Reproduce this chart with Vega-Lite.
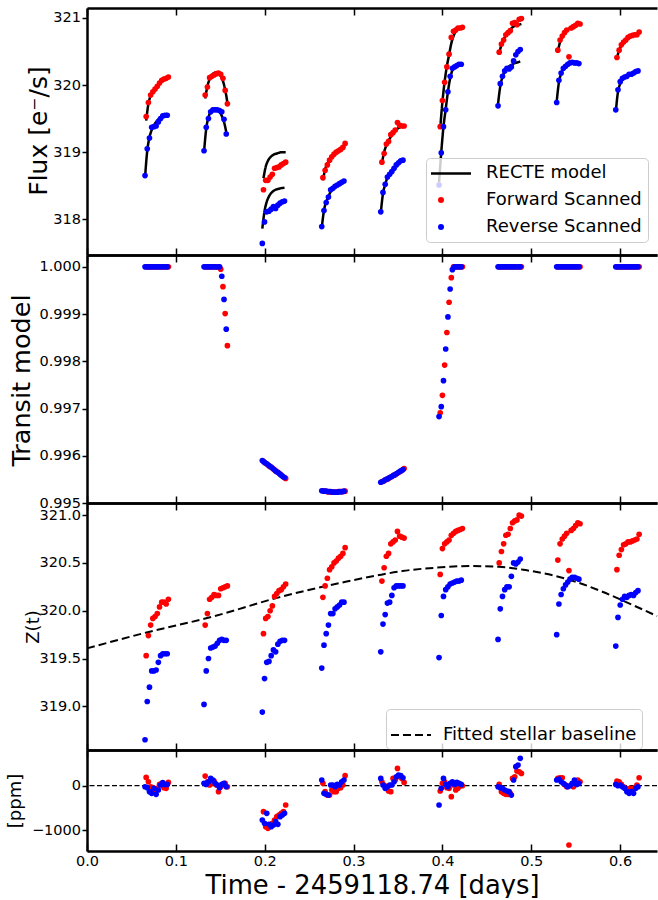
{
"$schema":"https://vega.github.io/schema/vega-lite/v6.json",
"background":"white",
"padding":{"left":6,"top":7,"right":0,"bottom":0},
"config":{"font":"DejaVu Sans","view":{"stroke":null},
"axis":{"grid":false,"domainColor":"black","domainWidth":2.5,"tickColor":"black","tickWidth":1.5,"labelColor":"black","labelFontSize":14.5,"labelFont":"DejaVu Sans","titleFont":"DejaVu Sans","titleColor":"black","titleFontWeight":"normal"},
"legend":{"labelFont":"DejaVu Sans"}},
"data":{"values":[
{"o":1,"d":"F","t":0.0666,"f":319.53,"m":319.47,"tr":1,"z":319.53,"r":188},
{"o":1,"d":"F","t":0.0691,"f":319.74,"m":319.72,"tr":1,"z":319.74,"r":90},
{"o":1,"d":"F","t":0.0716,"f":319.85,"m":319.84,"tr":1,"z":319.85,"r":-23},
{"o":1,"d":"F","t":0.0741,"f":319.90,"m":319.91,"tr":1,"z":319.92,"r":-45},
{"o":1,"d":"F","t":0.0766,"f":319.94,"m":319.95,"tr":1,"z":319.94,"r":-98},
{"o":1,"d":"F","t":0.0791,"f":319.98,"m":319.99,"tr":1,"z":319.97,"r":-60},
{"o":1,"d":"F","t":0.0816,"f":320.03,"m":320.02,"tr":1,"z":320.04,"r":30},
{"o":1,"d":"F","t":0.0841,"f":320.07,"m":320.05,"tr":1,"z":320.09,"r":53},
{"o":1,"d":"F","t":0.0866,"f":320.09,"m":320.07,"tr":1,"z":320.09,"r":-45},
{"o":1,"d":"F","t":0.0891,"f":320.10,"m":320.09,"tr":1,"z":320.07,"r":-60},
{"o":1,"d":"F","t":0.0916,"f":320.12,"m":320.11,"tr":1,"z":320.12,"r":75},
{"o":1,"d":"R","t":0.0653,"f":318.65,"m":318.62,"tr":1,"z":318.65,"r":-23},
{"o":1,"d":"R","t":0.0678,"f":319.05,"m":319.02,"tr":1,"z":319.05,"r":-45},
{"o":1,"d":"R","t":0.0703,"f":319.21,"m":319.22,"tr":1,"z":319.20,"r":-135},
{"o":1,"d":"R","t":0.0728,"f":319.37,"m":319.33,"tr":1,"z":319.37,"r":-173},
{"o":1,"d":"R","t":0.0753,"f":319.38,"m":319.40,"tr":1,"z":319.37,"r":-60},
{"o":1,"d":"R","t":0.0778,"f":319.39,"m":319.45,"tr":1,"z":319.38,"r":-195},
{"o":1,"d":"R","t":0.0803,"f":319.45,"m":319.49,"tr":1,"z":319.46,"r":-98},
{"o":1,"d":"R","t":0.0828,"f":319.50,"m":319.52,"tr":1,"z":319.53,"r":15},
{"o":1,"d":"R","t":0.0853,"f":319.54,"m":319.54,"tr":1,"z":319.55,"r":68},
{"o":1,"d":"R","t":0.0878,"f":319.55,"m":319.56,"tr":1,"z":319.55,"r":30},
{"o":1,"d":"R","t":0.0903,"f":319.55,"m":319.57,"tr":1,"z":319.55,"r":30},
{"o":2,"d":"F","t":0.1330,"f":319.85,"m":319.80,"tr":1,"z":319.85,"r":218},
{"o":2,"d":"F","t":0.1355,"f":319.97,"m":319.98,"tr":1,"z":319.97,"r":90},
{"o":2,"d":"F","t":0.1380,"f":320.11,"m":320.09,"tr":1,"z":320.12,"r":15},
{"o":2,"d":"F","t":0.1405,"f":320.13,"m":320.15,"tr":1,"z":320.14,"r":53},
{"o":2,"d":"F","t":0.1430,"f":320.15,"m":320.18,"tr":1,"z":320.17,"r":105},
{"o":2,"d":"F","t":0.1455,"f":320.17,"m":320.19,"tr":1,"z":320.16,"r":15},
{"o":2,"d":"F","t":0.1480,"f":320.18,"m":320.18,"tr":1,"z":320.16,"r":-135},
{"o":2,"d":"F","t":0.1505,"f":320.16,"m":320.14,"tr":0.99995,"z":320.23,"r":-23},
{"o":2,"d":"F","t":0.1530,"f":320.10,"m":320.06,"tr":0.99958,"z":320.24,"r":30},
{"o":2,"d":"F","t":0.1555,"f":319.92,"m":319.93,"tr":0.99901,"z":320.25,"r":53},
{"o":2,"d":"F","t":0.1580,"f":319.72,"m":319.74,"tr":0.99833,"z":320.26,"r":-23},
{"o":2,"d":"R","t":0.1317,"f":319.02,"m":319.00,"tr":1,"z":319.02,"r":53},
{"o":2,"d":"R","t":0.1342,"f":319.37,"m":319.35,"tr":1,"z":319.37,"r":30},
{"o":2,"d":"R","t":0.1367,"f":319.50,"m":319.52,"tr":1,"z":319.50,"r":90},
{"o":2,"d":"R","t":0.1392,"f":319.60,"m":319.60,"tr":1,"z":319.61,"r":165},
{"o":2,"d":"R","t":0.1417,"f":319.63,"m":319.64,"tr":1,"z":319.62,"r":128},
{"o":2,"d":"R","t":0.1442,"f":319.63,"m":319.65,"tr":1,"z":319.63,"r":53},
{"o":2,"d":"R","t":0.1467,"f":319.63,"m":319.64,"tr":1,"z":319.66,"r":15},
{"o":2,"d":"R","t":0.1492,"f":319.62,"m":319.60,"tr":1,"z":319.69,"r":-45},
{"o":2,"d":"R","t":0.1517,"f":319.60,"m":319.54,"tr":0.9998,"z":319.70,"r":30},
{"o":2,"d":"R","t":0.1542,"f":319.49,"m":319.45,"tr":0.99931,"z":319.69,"r":53},
{"o":2,"d":"R","t":0.1567,"f":319.27,"m":319.30,"tr":0.99868,"z":319.69,"r":-23},
{"o":3,"d":"F","t":0.1986,"f":318.44,"m":318.61,"tr":0.99588,"z":319.76,"r":-586},
{"o":3,"d":"F","t":0.2011,"f":318.58,"m":318.78,"tr":0.99584,"z":319.92,"r":-925},
{"o":3,"d":"F","t":0.2036,"f":318.58,"m":318.87,"tr":0.99581,"z":319.94,"r":-962},
{"o":3,"d":"F","t":0.2061,"f":318.63,"m":318.92,"tr":0.99577,"z":320.00,"r":-887},
{"o":3,"d":"F","t":0.2086,"f":318.67,"m":318.95,"tr":0.99574,"z":320.05,"r":-850},
{"o":3,"d":"F","t":0.2111,"f":318.76,"m":318.97,"tr":0.99570,"z":320.15,"r":-774},
{"o":3,"d":"F","t":0.2136,"f":318.77,"m":318.98,"tr":0.99566,"z":320.18,"r":-699},
{"o":3,"d":"F","t":0.2161,"f":318.78,"m":318.99,"tr":0.99563,"z":320.21,"r":-662},
{"o":3,"d":"F","t":0.2186,"f":318.81,"m":319.00,"tr":0.99559,"z":320.22,"r":-624},
{"o":3,"d":"F","t":0.2211,"f":318.83,"m":319.00,"tr":0.99555,"z":320.25,"r":-586},
{"o":3,"d":"F","t":0.2236,"f":318.85,"m":319.00,"tr":0.99552,"z":320.28,"r":-436},
{"o":3,"d":"R","t":0.1973,"f":317.64,"m":317.86,"tr":0.99590,"z":318.94,"r":-774},
{"o":3,"d":"R","t":0.1998,"f":317.96,"m":318.12,"tr":0.99586,"z":319.29,"r":-850},
{"o":3,"d":"R","t":0.2023,"f":318.11,"m":318.26,"tr":0.99583,"z":319.46,"r":-624},
{"o":3,"d":"R","t":0.2048,"f":318.12,"m":318.34,"tr":0.99579,"z":319.47,"r":-872},
{"o":3,"d":"R","t":0.2073,"f":318.15,"m":318.39,"tr":0.99576,"z":319.53,"r":-925},
{"o":3,"d":"R","t":0.2098,"f":318.19,"m":318.42,"tr":0.99572,"z":319.59,"r":-887},
{"o":3,"d":"R","t":0.2123,"f":318.16,"m":318.44,"tr":0.99568,"z":319.57,"r":-812},
{"o":3,"d":"R","t":0.2148,"f":318.21,"m":318.45,"tr":0.99565,"z":319.65,"r":-872},
{"o":3,"d":"R","t":0.2173,"f":318.24,"m":318.46,"tr":0.99561,"z":319.68,"r":-699},
{"o":3,"d":"R","t":0.2198,"f":318.26,"m":318.465,"tr":0.99557,"z":319.69,"r":-662},
{"o":3,"d":"R","t":0.2223,"f":318.27,"m":318.47,"tr":0.99554,"z":319.69,"r":-624},
{"o":4,"d":"F","t":0.2655,"f":318.62,"m":318.58,"tr":0.99526,"z":320.14,"r":53},
{"o":4,"d":"F","t":0.2680,"f":318.73,"m":318.74,"tr":0.99525,"z":320.26,"r":-135},
{"o":4,"d":"F","t":0.2705,"f":318.81,"m":318.83,"tr":0.99524,"z":320.34,"r":-211},
{"o":4,"d":"F","t":0.2730,"f":318.88,"m":318.89,"tr":0.99524,"z":320.43,"r":-211},
{"o":4,"d":"F","t":0.2755,"f":318.93,"m":318.94,"tr":0.99523,"z":320.46,"r":-98},
{"o":4,"d":"F","t":0.2780,"f":318.97,"m":318.97,"tr":0.99523,"z":320.50,"r":-135},
{"o":4,"d":"F","t":0.2805,"f":319.00,"m":319.00,"tr":0.99523,"z":320.52,"r":-135},
{"o":4,"d":"F","t":0.2830,"f":319.02,"m":319.03,"tr":0.99524,"z":320.55,"r":-60},
{"o":4,"d":"F","t":0.2855,"f":319.04,"m":319.05,"tr":0.99524,"z":320.57,"r":-45},
{"o":4,"d":"F","t":0.2880,"f":319.07,"m":319.07,"tr":0.99524,"z":320.60,"r":15},
{"o":4,"d":"F","t":0.2905,"f":319.13,"m":319.09,"tr":0.99525,"z":320.66,"r":226},
{"o":4,"d":"R","t":0.2642,"f":317.89,"m":317.87,"tr":0.99526,"z":319.40,"r":128},
{"o":4,"d":"R","t":0.2667,"f":318.13,"m":318.13,"tr":0.99525,"z":319.64,"r":-173},
{"o":4,"d":"R","t":0.2692,"f":318.25,"m":318.26,"tr":0.99525,"z":319.76,"r":-195},
{"o":4,"d":"R","t":0.2717,"f":318.33,"m":318.34,"tr":0.99524,"z":319.85,"r":-211},
{"o":4,"d":"R","t":0.2742,"f":318.44,"m":318.41,"tr":0.99524,"z":319.97,"r":15},
{"o":4,"d":"R","t":0.2767,"f":318.46,"m":318.45,"tr":0.99523,"z":319.97,"r":15},
{"o":4,"d":"R","t":0.2792,"f":318.49,"m":318.48,"tr":0.99523,"z":320.02,"r":-23},
{"o":4,"d":"R","t":0.2817,"f":318.51,"m":318.51,"tr":0.99523,"z":320.04,"r":30},
{"o":4,"d":"R","t":0.2842,"f":318.53,"m":318.53,"tr":0.99524,"z":320.06,"r":15},
{"o":4,"d":"R","t":0.2867,"f":318.55,"m":318.55,"tr":0.99524,"z":320.09,"r":90},
{"o":4,"d":"R","t":0.2892,"f":318.57,"m":318.57,"tr":0.99525,"z":320.09,"r":128},
{"o":5,"d":"F","t":0.3319,"f":318.85,"m":318.83,"tr":0.99545,"z":320.31,"r":90},
{"o":5,"d":"F","t":0.3344,"f":318.98,"m":319.00,"tr":0.99547,"z":320.45,"r":15},
{"o":5,"d":"F","t":0.3369,"f":319.12,"m":319.10,"tr":0.99550,"z":320.57,"r":-23},
{"o":5,"d":"F","t":0.3394,"f":319.16,"m":319.17,"tr":0.99552,"z":320.60,"r":-120},
{"o":5,"d":"F","t":0.3419,"f":319.26,"m":319.23,"tr":0.99555,"z":320.70,"r":-135},
{"o":5,"d":"F","t":0.3444,"f":319.29,"m":319.28,"tr":0.99558,"z":320.72,"r":165},
{"o":5,"d":"F","t":0.3469,"f":319.33,"m":319.32,"tr":0.99560,"z":320.74,"r":128},
{"o":5,"d":"F","t":0.3494,"f":319.44,"m":319.35,"tr":0.99563,"z":320.83,"r":391},
{"o":5,"d":"F","t":0.3519,"f":319.40,"m":319.37,"tr":0.99566,"z":320.78,"r":203},
{"o":5,"d":"F","t":0.3544,"f":319.39,"m":319.39,"tr":0.99569,"z":320.77,"r":165},
{"o":5,"d":"F","t":0.3569,"f":319.39,"m":319.40,"tr":0.99573,"z":320.76,"r":75},
{"o":5,"d":"R","t":0.3306,"f":318.11,"m":318.09,"tr":0.99544,"z":319.57,"r":165},
{"o":5,"d":"R","t":0.3331,"f":318.40,"m":318.38,"tr":0.99546,"z":319.86,"r":15},
{"o":5,"d":"R","t":0.3356,"f":318.52,"m":318.52,"tr":0.99549,"z":319.96,"r":-60},
{"o":5,"d":"R","t":0.3381,"f":318.63,"m":318.62,"tr":0.99551,"z":320.08,"r":-23},
{"o":5,"d":"R","t":0.3406,"f":318.67,"m":318.68,"tr":0.99554,"z":320.09,"r":15},
{"o":5,"d":"R","t":0.3431,"f":318.71,"m":318.73,"tr":0.99556,"z":320.16,"r":15},
{"o":5,"d":"R","t":0.3456,"f":318.76,"m":318.77,"tr":0.99559,"z":320.24,"r":90},
{"o":5,"d":"R","t":0.3481,"f":318.81,"m":318.81,"tr":0.99562,"z":320.26,"r":203},
{"o":5,"d":"R","t":0.3506,"f":318.84,"m":318.84,"tr":0.99565,"z":320.26,"r":241},
{"o":5,"d":"R","t":0.3531,"f":318.87,"m":318.86,"tr":0.99568,"z":320.26,"r":226},
{"o":5,"d":"R","t":0.3556,"f":318.88,"m":318.88,"tr":0.99571,"z":320.26,"r":180},
{"o":6,"d":"F","t":0.3975,"f":319.38,"m":319.35,"tr":0.99691,"z":320.38,"r":-120},
{"o":6,"d":"F","t":0.4000,"f":319.77,"m":319.75,"tr":0.99728,"z":320.65,"r":53},
{"o":6,"d":"F","t":0.4025,"f":320.04,"m":320.05,"tr":0.99792,"z":320.70,"r":90},
{"o":6,"d":"F","t":0.4050,"f":320.27,"m":320.28,"tr":0.99861,"z":320.72,"r":-45},
{"o":6,"d":"F","t":0.4075,"f":320.46,"m":320.45,"tr":0.99925,"z":320.74,"r":-60},
{"o":6,"d":"F","t":0.4100,"f":320.71,"m":320.62,"tr":0.99977,"z":320.79,"r":-248},
{"o":6,"d":"F","t":0.4125,"f":320.80,"m":320.73,"tr":1,"z":320.81,"r":15},
{"o":6,"d":"F","t":0.4150,"f":320.82,"m":320.80,"tr":1,"z":320.83,"r":-98},
{"o":6,"d":"F","t":0.4175,"f":320.85,"m":320.84,"tr":1,"z":320.84,"r":-60},
{"o":6,"d":"F","t":0.4200,"f":320.85,"m":320.86,"tr":1,"z":320.85,"r":0},
{"o":6,"d":"F","t":0.4225,"f":320.86,"m":320.87,"tr":1,"z":320.86,"r":0},
{"o":6,"d":"R","t":0.3962,"f":318.51,"m":318.55,"tr":0.99683,"z":319.51,"r":-436},
{"o":6,"d":"R","t":0.3987,"f":318.99,"m":319.00,"tr":0.99704,"z":319.95,"r":-60},
{"o":6,"d":"R","t":0.4012,"f":319.38,"m":319.38,"tr":0.99759,"z":320.15,"r":165},
{"o":6,"d":"R","t":0.4037,"f":319.63,"m":319.64,"tr":0.99826,"z":320.22,"r":30},
{"o":6,"d":"R","t":0.4062,"f":319.90,"m":319.90,"tr":0.99894,"z":320.25,"r":-23},
{"o":6,"d":"R","t":0.4087,"f":320.13,"m":320.10,"tr":0.99953,"z":320.28,"r":53},
{"o":6,"d":"R","t":0.4112,"f":320.25,"m":320.22,"tr":0.99994,"z":320.29,"r":90},
{"o":6,"d":"R","t":0.4137,"f":320.27,"m":320.27,"tr":1,"z":320.30,"r":30},
{"o":6,"d":"R","t":0.4162,"f":320.29,"m":320.30,"tr":1,"z":320.31,"r":75},
{"o":6,"d":"R","t":0.4187,"f":320.31,"m":320.31,"tr":1,"z":320.31,"r":53},
{"o":6,"d":"R","t":0.4212,"f":320.31,"m":320.32,"tr":1,"z":320.32,"r":30},
{"o":7,"d":"F","t":0.4639,"f":320.49,"m":320.47,"tr":1,"z":320.50,"r":30},
{"o":7,"d":"F","t":0.4664,"f":320.61,"m":320.60,"tr":1,"z":320.62,"r":-135},
{"o":7,"d":"F","t":0.4689,"f":320.67,"m":320.68,"tr":1,"z":320.70,"r":-173},
{"o":7,"d":"F","t":0.4714,"f":320.75,"m":320.74,"tr":1,"z":320.79,"r":-195},
{"o":7,"d":"F","t":0.4739,"f":320.78,"m":320.79,"tr":1,"z":320.80,"r":-195},
{"o":7,"d":"F","t":0.4764,"f":320.81,"m":320.83,"tr":1,"z":320.86,"r":-173},
{"o":7,"d":"F","t":0.4789,"f":320.92,"m":320.86,"tr":1,"z":320.92,"r":165},
{"o":7,"d":"F","t":0.4814,"f":320.93,"m":320.88,"tr":1,"z":320.94,"r":203},
{"o":7,"d":"F","t":0.4839,"f":320.90,"m":320.89,"tr":1,"z":320.95,"r":331},
{"o":7,"d":"F","t":0.4864,"f":320.98,"m":320.90,"tr":1,"z":321.00,"r":316},
{"o":7,"d":"F","t":0.4889,"f":320.99,"m":320.91,"tr":1,"z":320.99,"r":278},
{"o":7,"d":"R","t":0.4626,"f":319.69,"m":319.72,"tr":1,"z":319.70,"r":-23},
{"o":7,"d":"R","t":0.4651,"f":320.02,"m":319.98,"tr":1,"z":320.02,"r":-45},
{"o":7,"d":"R","t":0.4676,"f":320.13,"m":320.12,"tr":1,"z":320.15,"r":-60},
{"o":7,"d":"R","t":0.4701,"f":320.21,"m":320.20,"tr":1,"z":320.22,"r":-98},
{"o":7,"d":"R","t":0.4726,"f":320.25,"m":320.25,"tr":1,"z":320.25,"r":-120},
{"o":7,"d":"R","t":0.4751,"f":320.24,"m":320.28,"tr":1,"z":320.25,"r":-135},
{"o":7,"d":"R","t":0.4776,"f":320.27,"m":320.30,"tr":1,"z":320.36,"r":-211},
{"o":7,"d":"R","t":0.4801,"f":320.36,"m":320.32,"tr":1,"z":320.50,"r":128},
{"o":7,"d":"R","t":0.4826,"f":320.45,"m":320.33,"tr":1,"z":320.49,"r":429},
{"o":7,"d":"R","t":0.4851,"f":320.50,"m":320.34,"tr":1,"z":320.51,"r":466},
{"o":7,"d":"R","t":0.4876,"f":320.53,"m":320.35,"tr":1,"z":320.54,"r":617},
{"o":8,"d":"F","t":0.5299,"f":320.52,"m":320.50,"tr":1,"z":320.53,"r":165},
{"o":8,"d":"F","t":0.5324,"f":320.67,"m":320.64,"tr":1,"z":320.70,"r":180},
{"o":8,"d":"F","t":0.5349,"f":320.73,"m":320.72,"tr":1,"z":320.75,"r":180},
{"o":8,"d":"F","t":0.5374,"f":320.78,"m":320.78,"tr":1,"z":320.78,"r":30},
{"o":8,"d":"F","t":0.5399,"f":320.82,"m":320.82,"tr":1,"z":320.81,"r":-23},
{"o":8,"d":"F","t":0.5424,"f":320.42,"m":320.84,"tr":1,"z":320.42,"r":-1338},
{"o":8,"d":"F","t":0.5449,"f":320.85,"m":320.86,"tr":1,"z":320.84,"r":15},
{"o":8,"d":"F","t":0.5474,"f":320.87,"m":320.88,"tr":1,"z":320.86,"r":-23},
{"o":8,"d":"F","t":0.5499,"f":320.89,"m":320.89,"tr":1,"z":320.89,"r":30},
{"o":8,"d":"F","t":0.5524,"f":320.92,"m":320.90,"tr":1,"z":320.92,"r":128},
{"o":8,"d":"F","t":0.5549,"f":320.91,"m":320.90,"tr":1,"z":320.91,"r":90},
{"o":8,"d":"R","t":0.5286,"f":319.74,"m":319.75,"tr":1,"z":319.75,"r":128},
{"o":8,"d":"R","t":0.5311,"f":320.07,"m":320.04,"tr":1,"z":320.07,"r":150},
{"o":8,"d":"R","t":0.5336,"f":320.18,"m":320.17,"tr":1,"z":320.17,"r":90},
{"o":8,"d":"R","t":0.5361,"f":320.25,"m":320.24,"tr":1,"z":320.23,"r":53},
{"o":8,"d":"R","t":0.5386,"f":320.28,"m":320.28,"tr":1,"z":320.27,"r":15},
{"o":8,"d":"R","t":0.5411,"f":320.31,"m":320.31,"tr":1,"z":320.30,"r":-23},
{"o":8,"d":"R","t":0.5436,"f":320.33,"m":320.32,"tr":1,"z":320.33,"r":0},
{"o":8,"d":"R","t":0.5461,"f":320.34,"m":320.33,"tr":1,"z":320.35,"r":53},
{"o":8,"d":"R","t":0.5486,"f":320.33,"m":320.34,"tr":1,"z":320.35,"r":128},
{"o":8,"d":"R","t":0.5511,"f":320.33,"m":320.34,"tr":1,"z":320.34,"r":30},
{"o":8,"d":"R","t":0.5536,"f":320.32,"m":320.34,"tr":1,"z":320.33,"r":53},
{"o":9,"d":"F","t":0.5964,"f":320.41,"m":320.40,"tr":1,"z":320.43,"r":105},
{"o":9,"d":"F","t":0.5989,"f":320.52,"m":320.52,"tr":1,"z":320.58,"r":90},
{"o":9,"d":"F","t":0.6014,"f":320.60,"m":320.59,"tr":1,"z":320.64,"r":30},
{"o":9,"d":"F","t":0.6039,"f":320.64,"m":320.64,"tr":1,"z":320.69,"r":-23},
{"o":9,"d":"F","t":0.6064,"f":320.67,"m":320.67,"tr":1,"z":320.70,"r":-60},
{"o":9,"d":"F","t":0.6089,"f":320.71,"m":320.70,"tr":1,"z":320.72,"r":-75},
{"o":9,"d":"F","t":0.6114,"f":320.73,"m":320.72,"tr":1,"z":320.72,"r":-60},
{"o":9,"d":"F","t":0.6139,"f":320.74,"m":320.74,"tr":1,"z":320.73,"r":-98},
{"o":9,"d":"F","t":0.6164,"f":320.75,"m":320.75,"tr":1,"z":320.74,"r":-45},
{"o":9,"d":"F","t":0.6189,"f":320.75,"m":320.76,"tr":1,"z":320.75,"r":15},
{"o":9,"d":"F","t":0.6214,"f":320.79,"m":320.77,"tr":1,"z":320.80,"r":180},
{"o":9,"d":"R","t":0.5951,"f":319.63,"m":319.60,"tr":1,"z":319.63,"r":30},
{"o":9,"d":"R","t":0.5976,"f":319.93,"m":319.90,"tr":1,"z":319.93,"r":0},
{"o":9,"d":"R","t":0.6001,"f":320.05,"m":320.02,"tr":1,"z":320.06,"r":15},
{"o":9,"d":"R","t":0.6026,"f":320.10,"m":320.08,"tr":1,"z":320.12,"r":-23},
{"o":9,"d":"R","t":0.6051,"f":320.12,"m":320.12,"tr":1,"z":320.15,"r":-60},
{"o":9,"d":"R","t":0.6076,"f":320.13,"m":320.14,"tr":1,"z":320.14,"r":-135},
{"o":9,"d":"R","t":0.6101,"f":320.16,"m":320.16,"tr":1,"z":320.16,"r":-173},
{"o":9,"d":"R","t":0.6126,"f":320.16,"m":320.17,"tr":1,"z":320.17,"r":-135},
{"o":9,"d":"R","t":0.6151,"f":320.18,"m":320.18,"tr":1,"z":320.16,"r":-173},
{"o":9,"d":"R","t":0.6176,"f":320.20,"m":320.19,"tr":1,"z":320.19,"r":-60},
{"o":9,"d":"R","t":0.6201,"f":320.21,"m":320.20,"tr":1,"z":320.21,"r":-23}
]},
"spacing":0,
"bounds":"flush",
"resolve":{"scale":{"color":"independent","shape":"independent","strokeDash":"independent"},"legend":{"color":"independent","shape":"independent","strokeDash":"independent"}},
"vconcat":[
{"width":570,"height":247,
"layer":[
{"mark":{"type":"line","color":"black","strokeWidth":2.5,"interpolate":"monotone"},
"encoding":{
"x":{"field":"t","type":"quantitative","scale":{"domain":[0,0.6415],"nice":false,"zero":false},"axis":{"orient":"bottom","values":[0,0.1,0.2,0.3,0.4,0.5,0.6],"labels":false,"title":null,"tickSize":-7}},
"y":{"field":"m","type":"quantitative","scale":{"domain":[317.467,321.148],"nice":false,"zero":false},"axis":{"values":[318,319,320,321],"format":"d","tickSize":5,"labelPadding":1.5,"title":"Flux [e⁻/s]","titleFontSize":25,"titleAngle":-90,"titleX":-41,"titleY":122.5,"titleBaseline":"alphabetic","titleAlign":"center"}},
"detail":[{"field":"o","type":"nominal"},{"field":"d","type":"nominal"}],
"strokeDash":{"datum":"RECTE model","type":"nominal","scale":{"domain":["RECTE model"],"range":[[1,0]]},
"legend":{"orient":"none","legendX":344,"legendY":144,"title":null,"labelExpr":"''","labelFontSize":18,"padding":0,"symbolStrokeColor":"black","symbolStrokeWidth":2.5,"zindex":3,
"encode":{"symbols":{"update":{"size":{"value":1600},"x":{"value":20}}}}}}}},
{"mark":{"type":"point","filled":true,"size":32,"opacity":1},
"encoding":{
"x":{"field":"t","type":"quantitative","scale":{"domain":[0,0.6415],"nice":false,"zero":false},"axis":{"orient":"top","values":[0,0.1,0.2,0.3,0.4,0.5,0.6],"labels":false,"title":null,"tickSize":-7}},
"y":{"field":"f","type":"quantitative","scale":{"domain":[317.467,321.148],"nice":false,"zero":false},"axis":{"values":[318,319,320,321],"format":"d","tickSize":5,"labelPadding":1.5,"title":"Flux [e⁻/s]","titleFontSize":25,"titleAngle":-90,"titleX":-41,"titleY":122.5,"titleBaseline":"alphabetic","titleAlign":"center"}},
"color":{"field":"d","type":"nominal","scale":{"domain":["M","F","R"],"range":["black","#ff0000","#0000ff"]},
"legend":{"orient":"none","legendX":339,"legendY":150,"title":null,"labelExpr":"datum.label == 'M' ? 'RECTE model' : datum.label == 'F' ? 'Forward Scanned' : 'Reverse Scanned'","labelFontSize":18,"labelColor":"black","labelLimit":300,"symbolSize":36,"labelOffset":36,"rowPadding":9,"padding":6,"strokeColor":"#cccccc","cornerRadius":4,"fillColor":"rgba(255,255,255,0.8)","zindex":1}},
"shape":{"field":"d","type":"nominal","scale":{"domain":["M","F","R"],"range":["stroke","circle","circle"]},
"legend":{"orient":"none","legendX":339,"legendY":150,"title":null,"labelExpr":"datum.label == 'M' ? 'RECTE model' : datum.label == 'F' ? 'Forward Scanned' : 'Reverse Scanned'","labelFontSize":18,"labelColor":"black","labelLimit":300,"symbolSize":36,"labelOffset":36,"rowPadding":9,"padding":6,"strokeColor":"#cccccc","cornerRadius":4,"fillColor":"rgba(255,255,255,0.8)","zindex":1}},
"order":{"field":"d","type":"ordinal"}}}
],
"resolve":{"axis":{"x":"independent"}}},
{"width":570,"height":248,
"layer":[
{"mark":{"type":"point","filled":true,"size":32,"opacity":1},
"encoding":{
"x":{"field":"t","type":"quantitative","scale":{"domain":[0,0.6415],"nice":false,"zero":false},"axis":{"orient":"bottom","values":[0,0.1,0.2,0.3,0.4,0.5,0.6],"labels":false,"title":null,"tickSize":-7}},
"y":{"field":"tr","type":"quantitative","scale":{"domain":[0.995,1.00025],"nice":false,"zero":false},"axis":{"values":[0.995,0.996,0.997,0.998,0.999,1.0],"format":".3f","tickSize":5,"labelPadding":1.5,"title":"Transit model","titleFontSize":25.5,"titleAngle":-90,"titleX":-58,"titleY":125,"titleBaseline":"alphabetic","titleAlign":"center"}},
"color":{"field":"d","type":"nominal","scale":{"domain":["F","R"],"range":["#ff0000","#0000ff"]},"legend":null},
"order":{"field":"d","type":"ordinal"}}},
{"mark":{"type":"point","opacity":0},
"encoding":{
"x":{"field":"t","type":"quantitative","scale":{"domain":[0,0.6415],"nice":false,"zero":false},"axis":{"orient":"top","values":[0,0.1,0.2,0.3,0.4,0.5,0.6],"labels":false,"title":null,"tickSize":-7}},
"y":{"field":"tr","type":"quantitative","scale":{"domain":[0.995,1.00025],"nice":false,"zero":false},"axis":{"values":[0.995,0.996,0.997,0.998,0.999,1.0],"format":".3f","tickSize":5,"labelPadding":1.5,"title":"Transit model","titleFontSize":25.5,"titleAngle":-90,"titleX":-58,"titleY":125,"titleBaseline":"alphabetic","titleAlign":"center"}}}}
],
"resolve":{"axis":{"x":"independent"}}},
{"width":570,"height":247,
"layer":[
{"data":{"values":[
{"bt":0,"b":319.606,"lab":"Fitted stellar baseline"},
{"bt":0.066,"b":319.77,"lab":"Fitted stellar baseline"},
{"bt":0.141,"b":319.937,"lab":"Fitted stellar baseline"},
{"bt":0.216,"b":320.14,"lab":"Fitted stellar baseline"},
{"bt":0.291,"b":320.303,"lab":"Fitted stellar baseline"},
{"bt":0.3286,"b":320.373,"lab":"Fitted stellar baseline"},
{"bt":0.3549,"b":320.415,"lab":"Fitted stellar baseline"},
{"bt":0.3924,"b":320.45,"lab":"Fitted stellar baseline"},
{"bt":0.43,"b":320.467,"lab":"Fitted stellar baseline"},
{"bt":0.4637,"b":320.46,"lab":"Fitted stellar baseline"},
{"bt":0.4937,"b":320.425,"lab":"Fitted stellar baseline"},
{"bt":0.5275,"b":320.363,"lab":"Fitted stellar baseline"},
{"bt":0.55,"b":320.303,"lab":"Fitted stellar baseline"},
{"bt":0.58,"b":320.199,"lab":"Fitted stellar baseline"},
{"bt":0.61,"b":320.077,"lab":"Fitted stellar baseline"},
{"bt":0.6415,"b":319.944,"lab":"Fitted stellar baseline"}]},
"mark":{"type":"line","color":"black","strokeWidth":2,"interpolate":"monotone"},
"encoding":{
"x":{"field":"bt","type":"quantitative","scale":{"domain":[0,0.6415],"nice":false,"zero":false},"axis":{"orient":"bottom","values":[0,0.1,0.2,0.3,0.4,0.5,0.6],"labels":false,"title":null,"tickSize":-7}},
"y":{"field":"b","type":"quantitative","scale":{"domain":[318.543,321.127],"nice":false,"zero":false},"axis":{"values":[319,319.5,320,320.5,321],"format":".1f","tickSize":5,"labelPadding":1.5,"title":"Z(t)","titleFontSize":18,"titleAngle":-90,"titleX":-49,"titleY":123.5,"titleBaseline":"alphabetic","titleAlign":"center"}},
"strokeDash":{"field":"lab","type":"nominal","scale":{"domain":["Fitted stellar baseline"],"range":[[8,4]]},
"legend":{"orient":"none","legendX":299,"legendY":206,"title":null,"labelFontSize":18,"labelColor":"black","labelLimit":300,"labelOffset":10,"padding":5,"strokeColor":"#cccccc","cornerRadius":4,"fillColor":"rgba(255,255,255,0.8)","symbolStrokeColor":"black","symbolStrokeWidth":2,
"encode":{"symbols":{"update":{"size":{"value":1600},"x":{"value":20}}}}}}}},
{"mark":{"type":"point","filled":true,"size":32,"opacity":1},
"encoding":{
"x":{"field":"t","type":"quantitative","scale":{"domain":[0,0.6415],"nice":false,"zero":false},"axis":{"orient":"top","values":[0,0.1,0.2,0.3,0.4,0.5,0.6],"labels":false,"title":null,"tickSize":-7}},
"y":{"field":"z","type":"quantitative","scale":{"domain":[318.543,321.127],"nice":false,"zero":false},"axis":{"values":[319,319.5,320,320.5,321],"format":".1f","tickSize":5,"labelPadding":1.5,"title":"Z(t)","titleFontSize":18,"titleAngle":-90,"titleX":-49,"titleY":123.5,"titleBaseline":"alphabetic","titleAlign":"center"}},
"color":{"field":"d","type":"nominal","scale":{"domain":["F","R"],"range":["#ff0000","#0000ff"]},"legend":null},
"order":{"field":"d","type":"ordinal"}}}
],
"resolve":{"axis":{"x":"independent"}}},
{"width":570,"height":101,
"layer":[
{"data":{"values":[{}]},
"mark":{"type":"rule","color":"black","strokeWidth":1.3,"strokeDash":[5,2.5]},
"encoding":{"y":{"datum":0,"type":"quantitative","scale":{"domain":[-1474,806],"nice":false,"zero":false},"axis":{"values":[-1000,0],"format":"d","tickSize":5,"labelPadding":1.5,"title":"[ppm]","titleFontSize":18,"titleAngle":-90,"titleX":-67,"titleY":50.5,"titleBaseline":"alphabetic","titleAlign":"center"}}}},
{"mark":{"type":"point","filled":true,"size":32,"opacity":1},
"encoding":{
"x":{"field":"t","type":"quantitative","scale":{"domain":[0,0.6415],"nice":false,"zero":false},"axis":{"orient":"bottom","values":[0,0.1,0.2,0.3,0.4,0.5,0.6],"format":".1f","labelFlush":false,"labelPadding":10,"title":"Time - 2459118.74 [days]","titleFontSize":25.8,"titleY":42,"titleBaseline":"alphabetic","tickSize":-7}},
"y":{"field":"r","type":"quantitative","scale":{"domain":[-1474,806],"nice":false,"zero":false},"axis":{"values":[-1000,0],"format":"d","tickSize":5,"labelPadding":1.5,"title":"[ppm]","titleFontSize":18,"titleAngle":-90,"titleX":-67,"titleY":50.5,"titleBaseline":"alphabetic","titleAlign":"center"}},
"color":{"field":"d","type":"nominal","scale":{"domain":["F","R"],"range":["#ff0000","#0000ff"]},"legend":null},
"order":{"field":"d","type":"ordinal"}}},
{"mark":{"type":"point","opacity":0},
"encoding":{
"x":{"field":"t","type":"quantitative","scale":{"domain":[0,0.6415],"nice":false,"zero":false},"axis":{"orient":"top","values":[0,0.1,0.2,0.3,0.4,0.5,0.6],"labels":false,"title":null,"tickSize":-7}},
"y":{"field":"r","type":"quantitative","scale":{"domain":[-1474,806],"nice":false,"zero":false}}}}
],
"resolve":{"axis":{"x":"independent"}}}
]
}
